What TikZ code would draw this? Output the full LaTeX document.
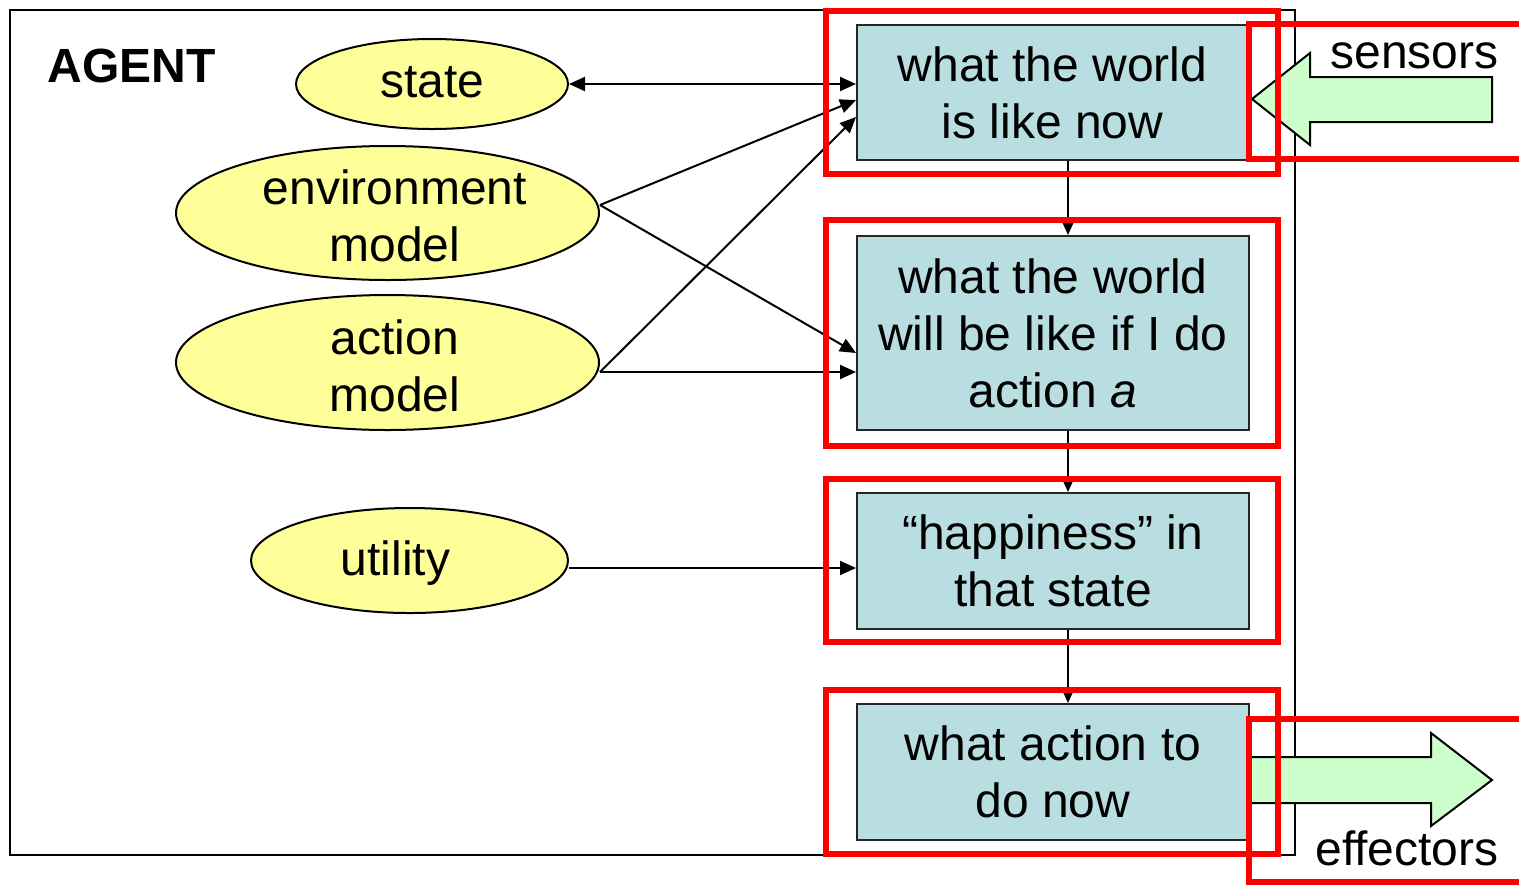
\documentclass[tikz,border=0pt]{standalone}
\usepackage{fontspec}
\setmainfont{Liberation Sans}
\usetikzlibrary{arrows.meta,calc,shapes.geometric}
\definecolor{ovalfill}{RGB}{255,255,153}
\definecolor{boxfill}{RGB}{185,222,225}
\definecolor{arrowfill}{RGB}{204,255,204}
\begin{document}
\begin{tikzpicture}[x=0.5pt,y=-0.5pt,
  txt/.style={font=\fontsize{24}{28.5}\selectfont, align=center, inner sep=0pt},
  oval/.style={ellipse, draw=black, line width=1pt, fill=ovalfill, inner sep=0pt},
  stagebox/.style={rectangle, draw=black!85, line width=1pt, fill=boxfill, inner sep=0pt,
    font=\fontsize{24}{28.5}\selectfont, align=center},
  hilite/.style={draw=red, line width=2.6pt},
  link/.style={line width=1pt, -{Triangle[length=8pt,width=7pt]}},
  blockarrow/.style={fill=arrowfill, draw=black, line width=1pt, line join=miter}
]
\useasboundingbox (0,0) rectangle (1519,885);

% agent frame
\draw[line width=1pt] (10,10) rectangle (1295,855);
\node[inner sep=0pt, anchor=base west, font=\fontsize{24}{28.5}\selectfont\bfseries]
  (agent) at (47,82) {AGENT};

% sensor and effector block arrows
\draw[blockarrow] (1252,99) -- (1310,53) -- (1310,77) -- (1492,77) -- (1492,122)
  -- (1310,122) -- (1310,145) -- cycle;
\fill[arrowfill] (1249,757) rectangle (1432,803);
\draw[blockarrow] (1249,757) -- (1431,757) -- (1431,733) -- (1492,780) -- (1431,826)
  -- (1431,803) -- (1249,803);

% stages of the decision process
\node[stagebox, minimum width=195.5pt, minimum height=67.5pt] (b1) at (1052.5,92.5)
  {what the world\\is like now};
\node[stagebox, minimum width=196pt, minimum height=97pt] (b2) at (1053,333)
  {what the world\\will be like if I do\\action \textit{a}};
\node[stagebox, minimum width=196pt, minimum height=68pt] (b3) at (1053,561)
  {“happiness” in\\that state};
\node[stagebox, minimum width=196pt, minimum height=68pt] (b4) at (1053,772)
  {what action to\\do now};

% knowledge the agent keeps
\node[oval, minimum width=136pt, minimum height=45pt] (st) at (432,84) {};
\node[oval, minimum width=211.5pt, minimum height=67pt] (env) at (387.5,213) {};
\node[oval, minimum width=211.5pt, minimum height=67.5pt] (act) at (387.5,362.5) {};
\node[oval, minimum width=158.5pt, minimum height=52.5pt] (util) at (409.5,560.5) {};
\node[txt] (sttxt) at (432.5,82) {state};
\node[txt] (envtxt) at (395,216) {environment\\model};
\node[txt] (acttxt) at (395,366) {action\\model};
\node[txt] (utiltxt) at (395.5,563) {utility};

% connectors
\coordinate (spine) at (1068,0);
\draw[link, {Triangle[length=8pt,width=7pt]}-{Triangle[length=8pt,width=7pt]}]
  (st.east) -- (st.east -| b1.west);
\draw[link] ($(env.east)+(0,-8)$) -- ($(b1.west)+(0,7.5)$);
\draw[link] ($(env.east)+(0,-8)$) -- ($(b2.west)+(0,20)$);
\draw[link] ($(act.east)+(0,9.5)$) -- ($(b1.west)+(0,24.5)$);
\draw[link] ($(act.east)+(0,9.5)$) -- ($(b2.west)+(0,39)$);
\draw[link] ($(util.east)+(0,7.5)$) -- ($(b3.west)+(0,7)$);
\draw[link] (b1.south -| spine) -- (b2.north -| spine);
\draw[link] (b2.south -| spine) -- (b3.north -| spine);
\draw[link] (b3.south -| spine) -- (b4.north -| spine);

% highlight frames
\draw[hilite] (826,11) rectangle (1278,174);
\draw[hilite] (826,220) rectangle (1278,446);
\draw[hilite] (826,479) rectangle (1278,642);
\draw[hilite] (826,690) rectangle (1278,854);
\draw[hilite] (1249,24) rectangle (1540,159);
\draw[hilite] (1249,719) rectangle (1540,882);

% labels of the outer arrows
\node[txt, anchor=base west] (sens) at (1330,68) {sensors};
\node[txt, anchor=base west] (eff) at (1315,865) {effectors};
\end{tikzpicture}
\end{document}
